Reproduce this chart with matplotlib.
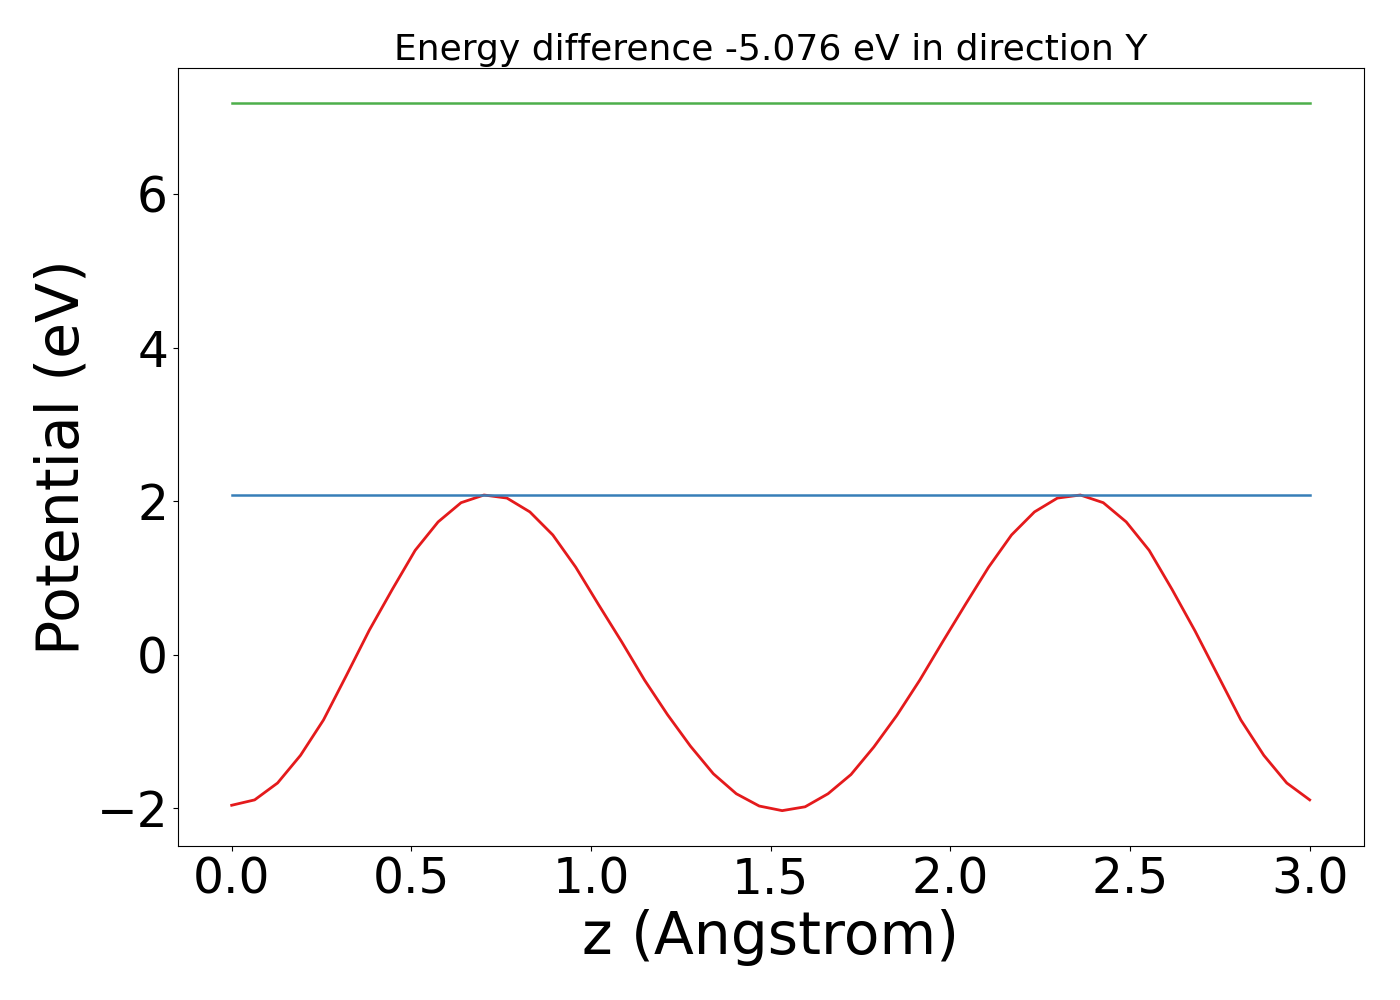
import matplotlib
matplotlib.use("Agg")
import matplotlib.pyplot as plt
import numpy as np

z_max = 3.0
n_points = 48
potential = [-1.96, -1.89, -1.67, -1.31, -0.85, -0.27, 0.32, 0.85, 1.36, 1.73, 1.98, 2.08,
             2.04, 1.86, 1.56, 1.14, 0.65, 0.17, -0.33, -0.78, -1.19, -1.55, -1.81, -1.97,
             -2.03, -1.98, -1.81, -1.56, -1.20, -0.79, -0.33, 0.17, 0.66, 1.14, 1.56, 1.86,
             2.04, 2.08, 1.98, 1.73, 1.36, 0.85, 0.31, -0.27, -0.85, -1.31, -1.67, -1.89]
barrier_level = 2.08
upper_level = 7.18
title = "Energy difference -5.076 eV in direction Y"

z = np.linspace(0, z_max, len(potential))

fig = plt.figure(figsize=(14, 10), dpi=100)
ax = fig.add_axes([0.127, 0.154, 0.847, 0.778])
ax.plot(z, potential, color="#e41a1c", lw=2)
ax.plot([z[0], z[-1]], [barrier_level, barrier_level], color="#377eb8", lw=1.8)
ax.plot([z[0], z[-1]], [upper_level, upper_level], color="#4daf4a", lw=1.8)
ax.set_title(title, fontsize=26)
ax.set_xlabel("z (Angstrom)", fontsize=42)
ax.set_ylabel("Potential (eV)", fontsize=42)
ax.tick_params(labelsize=35)
fig.savefig("out.png", dpi=100)
